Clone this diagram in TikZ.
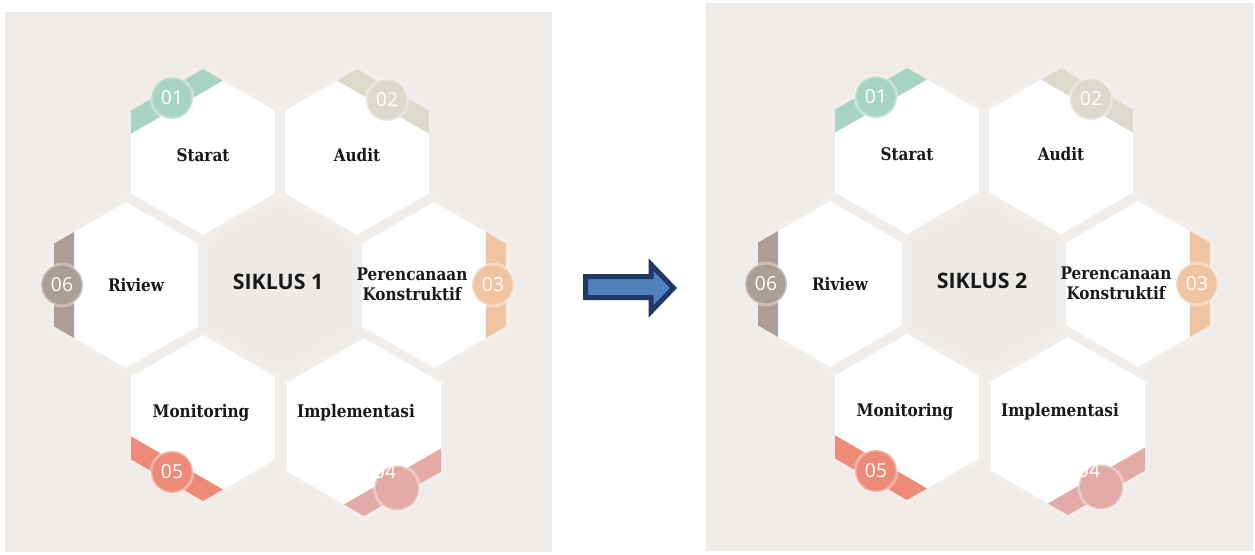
\documentclass[tikz,border=0pt]{standalone}
\usepackage{fontspec}
\setmainfont{DejaVu Serif}[FakeStretch=0.88]
\newfontfamily\sansnum{Open Sans}
\usetikzlibrary{shapes.geometric}

\definecolor{panelbg}{HTML}{EEEBE8}
\definecolor{midhex}{HTML}{ECE9E6}
\definecolor{tone1}{HTML}{A8D4C4}
\definecolor{tone2}{HTML}{DED9CD}
\definecolor{tone3}{HTML}{F0C4A0}
\definecolor{tone4}{HTML}{E4AAA5}
\definecolor{tone5}{HTML}{EE8A78}
\definecolor{tone6}{HTML}{AA9E96}
\definecolor{arrowfill}{HTML}{4F81BD}
\definecolor{arrowedge}{HTML}{1F3864}

% coloured band on the outer side of a hexagon: x, y, turn, radius, colour
\newcommand{\band}[5]{%
  \begin{scope}[shift={(#1,#2)}, rotate=#3]
    \fill[#5] ({#4*0.866-20},{#4/2+11.55}) -- ({#4*0.866},{#4/2})
      -- ({#4*0.866},{-#4/2}) -- ({#4*0.866-20},{-#4/2-11.55}) -- cycle;
  \end{scope}}

\begin{document}
\begin{tikzpicture}[x=0.75pt,y=0.75pt,
  hexbox/.style={regular polygon,regular polygon sides=6,regular polygon rotate=30,
    inner sep=0pt,minimum size=124.5pt,fill=white,draw=white,draw opacity=0.15,line width=7.5pt},
  disc/.style={circle,inner sep=0pt,minimum size=31.5pt,draw=white,draw opacity=0.35,
    line width=2.25pt,text=white,font=\sansnum\fontsize{14.5}{17}\selectfont},
  numtext/.style={inner sep=0pt,text=white,font=\sansnum\fontsize{14.5}{17}\selectfont},
  lbl/.style={inner sep=0pt,anchor=base,text=black!90,font=\bfseries\fontsize{13}{15}\selectfont},
  title/.style={inner sep=0pt,anchor=base,text=black!90,font=\sansnum\bfseries\fontsize{16}{19}\selectfont}]

\useasboundingbox (0,0) rectangle (1255,554);
\fill[white] (0,0) rectangle (1255,554);
\fill[panelbg] (5,2) rectangle (552,542);
\fill[panelbg] (706,3) rectangle (1253,551);

\foreach \p/\dx/\dy in {1/0/0,2/704/1}{
\begin{scope}[shift={(\dx,\dy)}]
  % hexagons
  \node[hexbox,fill=midhex,draw=none] (sk\p) at (280,269) {};
  \node[hexbox] (st\p) at (203,402) {};
  \node[hexbox] (au\p) at (357,402) {};
  \node[hexbox] (pk\p) at (434,269) {};
  \node[hexbox,minimum size=133.5pt] (im\p) at (364,127) {};
  \node[hexbox] (mo\p) at (203,136) {};
  \node[hexbox] (ri\p) at (126,269) {};
  % bands
  \band{203}{402}{120}{83}{tone1}
  \band{357}{402}{60}{83}{tone2}
  \band{434}{269}{0}{83}{tone3}
  \band{364}{127}{-60}{89}{tone4}
  \band{203}{136}{-120}{83}{tone5}
  \band{126}{269}{180}{83}{tone6}
  % numbers
  \node[disc,fill=tone1] (n1\p) at (172,456) {01};
  \node[disc,fill=tone2] (n2\p) at (387,454) {02};
  \node[disc,fill=tone3] (n3\p) at (493,269) {03};
  \node[disc,fill=tone4,minimum size=33.75pt] (n4\p) at (397,66) {};
  \node[numtext] (t4\p) at (385,82) {04};
  \node[disc,fill=tone5] (n5\p) at (172,82) {05};
  \node[disc,fill=tone6] (n6\p) at (62,269) {06};
  % labels
  \node[lbl] (lst\p) at (203,392.3) {Starat};
  \node[lbl] (lau\p) at (357,392.3) {Audit};
  \node[lbl,anchor=center,align=center] (lpk\p) at (412,270) {Perencanaan\\Konstruktif};
  \node[lbl] (lim\p) at (356,137) {Implementasi};
  \node[lbl] (lmo\p) at (201,136.7) {Monitoring};
  \node[lbl] (lri\p) at (136,262.3) {Riview};
  \node[title] (lsk\p) at (278,264.7) {SIKLUS \p};
\end{scope}}

% arrow between the two cycles
\filldraw[fill=arrowfill,draw=arrowedge,line width=3.75pt,line join=miter]
  (585.5,256.5) -- (651,256.5) -- (651,242.5) -- (673.5,266)
  -- (651,289.5) -- (651,277.5) -- (585.5,277.5) -- cycle;
\end{tikzpicture}
\end{document}
